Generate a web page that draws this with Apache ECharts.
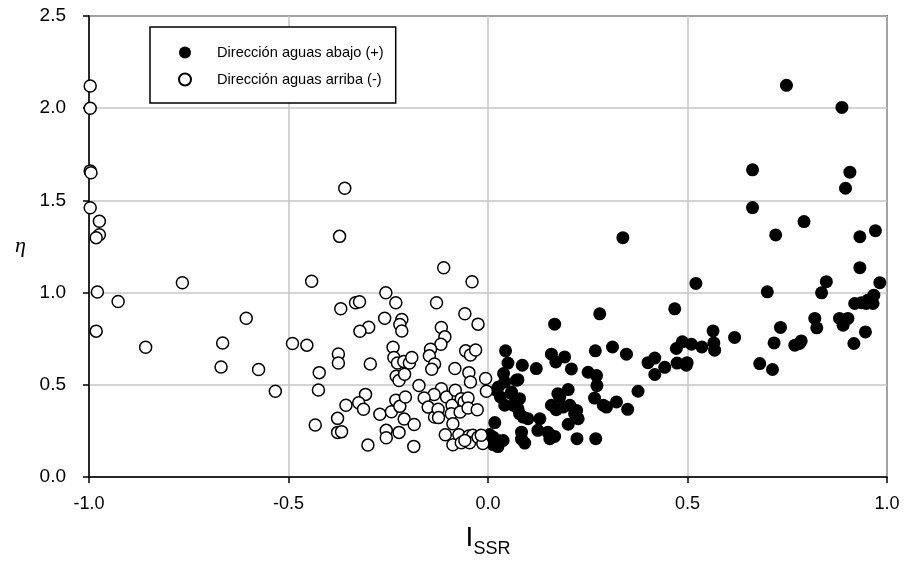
<!DOCTYPE html>
<html>
<head>
<meta charset="utf-8">
<script src="https://cdn.jsdelivr.net/npm/echarts@6/dist/echarts.min.js"></script>
<style>
html,body{margin:0;padding:0;background:#fff;}
#chart{width:905px;height:561px;}
</style>
</head>
<body>
<div id="chart"></div>
<script>
// Series names
var seriesNames = ['Dirección aguas abajo (+)', 'Dirección aguas arriba (-)'];

// Downstream direction (+) : [I_SSR, eta]
var downstream = [
  [0.338,1.298],[0.167,0.829],[0.280,0.885],[0.468,0.912],
  [0.044,0.684],[0.050,0.618],[0.086,0.606],[0.121,0.588],
  [0.159,0.666],[0.170,0.624],[0.192,0.651],[0.209,0.586],
  [0.269,0.684],[0.312,0.705],[0.347,0.666],
  [0.251,0.568],[0.272,0.550],[0.273,0.496],
  [0.267,0.428],[0.289,0.389],[0.297,0.379],[0.322,0.407],[0.350,0.367],
  [0.376,0.465],
  [0.401,0.620],[0.418,0.645],[0.418,0.556],[0.443,0.595],
  [0.472,0.697],[0.487,0.733],[0.510,0.720],[0.474,0.618],[0.499,0.620],[0.497,0.606],
  [0.536,0.705],[0.564,0.792],[0.568,0.688],[0.566,0.727],[0.618,0.757],[0.521,1.050],
  [0.039,0.561],[0.042,0.515],[0.026,0.488],[0.071,0.524],[0.031,0.434],
  [0.059,0.452],[0.079,0.425],[0.042,0.389],[0.063,0.389],
  [0.075,0.371],[0.079,0.343],[0.100,0.316],[0.130,0.316],[0.088,0.325],
  [0.021,0.470],[0.059,0.461],[0.075,0.528],
  [0.159,0.389],[0.175,0.452],[0.171,0.365],[0.201,0.474],[0.205,0.389],[0.222,0.361],[0.226,0.316],[0.201,0.286],
  [0.180,0.434],[0.188,0.379],[0.217,0.343],
  [0.125,0.253],[0.150,0.243],[0.155,0.208],[0.167,0.220],[0.084,0.243],[0.092,0.184],[0.084,0.205],[0.223,0.208],[0.270,0.208],
  [0.017,0.295],[0.004,0.230],[0.013,0.216],[0.025,0.198],[0.038,0.198],[0.013,0.175],[0.025,0.165],
  [0.700,1.004],[0.836,0.999],[0.848,1.059],[0.982,1.054],
  [0.967,0.986],[0.919,0.941],[0.936,0.945],[0.948,0.941],[0.965,0.941],[0.952,0.959],
  [0.681,0.615],[0.713,0.583],[0.717,0.727],[0.733,0.811],
  [0.769,0.715],[0.781,0.724],[0.785,0.738],
  [0.819,0.860],[0.824,0.809],[0.881,0.860],[0.890,0.823],[0.902,0.860],
  [0.946,0.787],[0.917,0.724],
  [0.748,2.124],[0.887,2.004],[0.663,1.666],[0.907,1.653],[0.896,1.566],[0.663,1.461],
  [0.792,1.385],[0.721,1.313],[0.932,1.303],[0.971,1.336],[0.932,1.135]
];

// Upstream direction (-) : [I_SSR, eta]
var upstream = [
  [-0.997,2.12],[-0.997,2.00],[-0.997,1.66],[-0.995,1.65],[-0.997,1.46],
  [-0.974,1.387],[-0.974,1.314],[-0.982,1.298],[-0.979,1.003],[-0.927,0.952],[-0.982,0.791],
  [-0.766,1.053],[-0.858,0.704],[-0.606,0.861],[-0.665,0.727],[-0.669,0.597],[-0.575,0.583],[-0.533,0.465],
  [-0.490,0.724],[-0.454,0.715],[-0.442,1.062],[-0.372,1.305],[-0.359,1.566],[-0.369,0.912],
  [-0.332,0.945],[-0.322,0.950],[-0.299,0.812],[-0.321,0.790],[-0.375,0.667],[-0.375,0.618],
  [-0.423,0.566],[-0.295,0.613],[-0.425,0.472],[-0.307,0.448],[-0.324,0.403],[-0.312,0.367],
  [-0.356,0.389],[-0.377,0.318],[-0.433,0.282],[-0.377,0.242],[-0.367,0.246],[-0.301,0.173],
  [-0.271,0.340],[-0.256,0.999],[-0.259,0.861],[-0.255,0.253],[-0.255,0.213],
  [-0.111,1.135],[-0.040,1.059],[-0.231,0.945],[-0.129,0.945],[-0.058,0.885],[-0.025,0.829],
  [-0.216,0.854],[-0.221,0.827],[-0.216,0.792],[-0.117,0.811],[-0.108,0.760],[-0.118,0.720],
  [-0.238,0.704],[-0.236,0.648],[-0.227,0.618],[-0.211,0.626],[-0.197,0.618],[-0.191,0.648],
  [-0.230,0.546],[-0.223,0.523],[-0.209,0.557],[-0.144,0.693],[-0.147,0.657],[-0.134,0.613],[-0.141,0.584],
  [-0.056,0.684],[-0.044,0.662],[-0.031,0.689],[-0.083,0.588],[-0.048,0.566],[-0.044,0.515],
  [-0.006,0.534],[-0.004,0.465],
  [-0.242,0.354],[-0.231,0.416],[-0.221,0.383],[-0.207,0.434],[-0.223,0.242],[-0.210,0.314],
  [-0.185,0.285],[-0.186,0.166],[-0.173,0.496],
  [-0.117,0.479],[-0.135,0.447],[-0.160,0.428],[-0.104,0.434],[-0.082,0.470],
  [-0.150,0.379],[-0.134,0.325],[-0.125,0.367],[-0.124,0.322],[-0.090,0.389],[-0.067,0.425],
  [-0.060,0.407],[-0.050,0.428],[-0.092,0.343],[-0.070,0.352],[-0.050,0.374],[-0.027,0.365],[-0.088,0.289],
  [-0.107,0.229],[-0.088,0.175],[-0.073,0.229],[-0.067,0.186],[-0.048,0.222],[-0.038,0.226],
  [-0.046,0.186],[-0.025,0.216],[-0.013,0.182],[-0.058,0.198],[-0.017,0.226]
];

// Axis ranges / ticks
var xTicks = [-1.0, -0.5, 0.0, 0.5, 1.0];
var yTicks = [0.0, 0.5, 1.0, 1.5, 2.0, 2.5];

var chart = echarts.init(document.getElementById('chart'), null, {renderer: 'canvas'});
var font = 'Liberation Sans, Arial, sans-serif';

chart.setOption({
  animation: false,
  backgroundColor: '#fff',
  grid: {
    left: 89, right: 18, top: 16, bottom: 84,
    outerBoundsMode: 'none', containLabel: false,
    show: true, borderColor: '#000', borderWidth: 1.5, backgroundColor: 'transparent'
  },
  legend: {
    orient: 'vertical',
    left: 150, top: 27,
    padding: [18, 12, 16, 28],
    itemWidth: 54, itemHeight: 12, itemGap: 12,
    borderColor: '#000', borderWidth: 1.5,
    backgroundColor: '#fff',
    textStyle: {fontFamily: font, fontSize: 14.6, color: '#000'},
    data: seriesNames
  },
  xAxis: {
    type: 'value',
    min: xTicks[0], max: xTicks[xTicks.length - 1], interval: 0.5,
    axisLine: {show: true, onZero: false, lineStyle: {color: '#000', width: 1.5}},
    axisTick: {show: true, inside: false, length: 6, lineStyle: {color: '#000', width: 1.5}},
    axisLabel: {fontFamily: font, fontSize: 18, color: '#000', margin: 18,
      formatter: function (v) { return v.toFixed(1); }},
    splitLine: {show: true, lineStyle: {color: '#c6c6c6', width: 1.5}},
    name: '{i|I}{s|SSR}',
    nameLocation: 'middle', nameGap: 47,
    nameTextStyle: {
      fontFamily: font, color: '#000',
      rich: {
        i: {fontFamily: font, fontSize: 28, color: '#000', verticalAlign: 'top'},
        s: {fontFamily: font, fontSize: 18, color: '#000', verticalAlign: 'top', padding: [16, 0, 0, 0]}
      }
    }
  },
  yAxis: {
    type: 'value',
    min: yTicks[0], max: yTicks[yTicks.length - 1], interval: 0.5,
    axisLine: {show: true, onZero: false, lineStyle: {color: '#000', width: 1.5}},
    axisTick: {show: true, inside: false, length: 6, lineStyle: {color: '#000', width: 1.5}},
    axisLabel: {fontFamily: font, fontSize: 19, color: '#000', margin: 23,
      formatter: function (v) { return v.toFixed(1); }},
    splitLine: {show: true, lineStyle: {color: '#c6c6c6', width: 1.5}},
    name: 'η',
    nameLocation: 'middle', nameGap: 63, nameRotate: 0,
    nameTextStyle: {fontFamily: 'Liberation Serif, Times New Roman, serif', fontStyle: 'italic', fontSize: 22, color: '#000', padding: [20, 0, 0, 0]}
  },
  series: [
    {
      name: seriesNames[0], type: 'scatter', data: downstream,
      symbol: 'circle', symbolSize: 13,
      itemStyle: {color: '#000', borderColor: '#000', borderWidth: 0, opacity: 1}
    },
    {
      name: seriesNames[1], type: 'scatter', data: upstream,
      symbol: 'circle', symbolSize: 12,
      itemStyle: {color: '#fff', borderColor: '#000', borderWidth: 1.5, opacity: 1}
    }
  ]
});
</script>
</body>
</html>
